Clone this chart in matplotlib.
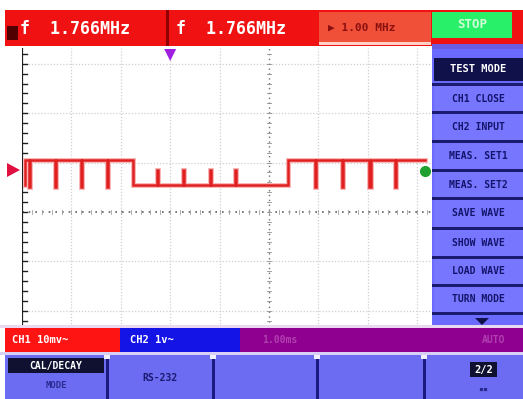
import matplotlib
matplotlib.use("Agg")
import matplotlib.pyplot as plt
from matplotlib.patches import Rectangle, Polygon
import numpy as np

# ---------------- data ----------------
freq_labels = ["f  1.766MHz", "f  1.766MHz"]
trig_label = "\u25B6 1.00 MHz"
run_label = "STOP"
menu_title = "TEST MODE"
menu_items = ["CH1 CLOSE", "CH2 INPUT", "MEAS. SET1", "MEAS. SET2",
              "SAVE WAVE", "SHOW WAVE", "LOAD WAVE", "TURN MODE"]
channel_labels = ["CH1 10mv~", "CH2 1v~"]
status_right = ["1.00ms", "AUTO"]
softkeys = ["CAL/DECAY", "RS-232", "", "", "2/2"]

# waveform in divisions
high_level = 1.05
low_level = 0.55
trace_start, fall_t, rise_t, trace_end = 0.06, 2.25, 5.38, 8.16
spikes_high = [0.14, 0.67, 1.19, 1.72, 5.93, 6.48, 7.03, 7.55]
spikes_low = [2.73, 3.26, 3.80, 4.31]
high_spike_bottom = 0.5
low_spike_top = 0.85
trigger_pos = 3.0
ground_level = 0.85
cursor_point = (8.16, 0.82)

# ---------------- figure ----------------
W, H = 523, 399
fig = plt.figure(figsize=(W / 100, H / 100), dpi=100)
fig.patch.set_facecolor("white")

px = 49.4
L, R, T, B = 22, 432, 48, 327
cy = 212
ax = fig.add_axes([L / W, 1 - B / H, (R - L) / W, (B - T) / H])
ax.set_xlim(0, (R - L) / px)
ax.set_ylim(-(B - cy) / px, (cy - T) / px)
ax.set_facecolor("white")
for s in ax.spines.values():
    s.set_visible(False)
ax.set_xticks([]); ax.set_yticks([])

# grid
for gx in range(1, 9):
    if gx == 5:
        continue
    ax.axvline(gx, color="#cfcfcf", lw=0.9, ls=(0, (1, 1.5)))
for gy in [-2, -1, 1, 2, 3]:
    ax.axhline(gy, color="#cfcfcf", lw=0.9, ls=(0, (1, 1.5)))
ax.axvline(5, color="#707070", lw=1.0, ls=(0, (1, 2.5)))
ax.axhline(0, color="#606060", lw=1.2, ls=(0, (1, 3)))
for t in np.arange(0.2, 8.3, 0.2):
    ax.plot([t, t], [-0.05, 0.05], color="#a0a0a0", lw=0.6)
for t in np.arange(-2.2, 3.3, 0.2):
    ax.plot([4.95, 5.05], [t, t], color="#909090", lw=0.6)
ax.axvline(0.01, color="#202020", lw=1.6)
for t in np.arange(-2.2, 3.3, 0.2):
    ax.plot([0, 0.1], [t, t], color="#202020", lw=1.0)

# build waveform
def level(t):
    return low_level if fall_t <= t < rise_t else high_level

events = [(s, high_spike_bottom) for s in spikes_high] + [(s, low_spike_top) for s in spikes_low]
events += [(fall_t, None), (rise_t, None)]
events.sort(key=lambda e: e[0])
xs = [trace_start, trace_start]
ys = [low_level, high_level]
w = 0.025
for t, v in events:
    if v is None:
        xs += [t, t]; ys += [level(t - 1e-6), level(t + 1e-6)]
    else:
        base = level(t)
        xs += [t, t, t + w, t + w]; ys += [base, v, v, base]
xs.append(trace_end); ys.append(level(trace_end - 1e-6))
ax.plot(xs, ys, color="#f8b8b8", lw=3.6, solid_joinstyle="miter", zorder=3)
ax.plot(xs, ys, color="#e02020", lw=1.8, solid_joinstyle="miter", zorder=4)
ax.plot([cursor_point[0]], [cursor_point[1]], "o", color="#20a030", ms=7, zorder=5)

# ---------------- chrome overlay ----------------
ov = fig.add_axes([0, 0, 1, 1], zorder=10)
ov.set_xlim(0, W); ov.set_ylim(H, 0); ov.axis("off")
ov.patch.set_alpha(0)

def rect(x0, y0, x1, y1, c, **kw):
    ov.add_patch(Rectangle((x0, y0), x1 - x0, y1 - y0, facecolor=c, edgecolor="none", **kw))

mono = "DejaVu Sans Mono"
rect(5, 10, W, 46, "#f01212")
rect(7, 26, 18, 40, "#500000")
rect(166, 10, 169, 46, "#900000")
ov.text(20, 29, freq_labels[0], color="white", fontsize=12, family=mono, fontweight="bold", va="center")
ov.text(176, 29, freq_labels[1], color="white", fontsize=12, family=mono, fontweight="bold", va="center")
rect(319, 12, 431, 44, "#f05038")
rect(319, 42, 431, 45, "#ffd0c8")
ov.text(328, 28, trig_label, color="#8a1010", fontsize=8, family=mono, fontweight="bold", va="center")
rect(432, 12, 512, 38, "#28f068")
ov.text(472, 25, run_label, color="#d0ffd8", fontsize=9, family=mono, fontweight="bold", va="center", ha="center")
rect(432, 44, W, 49, "#6a5ce0")

ov.add_patch(Polygon([[L + trigger_pos * px - 6, 49], [L + trigger_pos * px + 6, 49], [L + trigger_pos * px, 61]],
                     facecolor="#a020e0", edgecolor="none"))
gyp = cy - ground_level * px
ov.add_patch(Polygon([[7, gyp - 7], [7, gyp + 7], [20, gyp]], facecolor="#e01040", edgecolor="none"))

rect(432, 49, W, 327, "#6a6aff")
rect(434, 58, W, 81, "#10104a")
ov.text(478, 69.5, menu_title, color="white", fontsize=7.5, family=mono, fontweight="bold", va="center", ha="center")
seps = [84, 112, 141, 170, 198, 228, 257, 285, 313]
for s in seps:
    rect(432, s - 1, W, s + 1.5, "#1a1a70")
for i, item in enumerate(menu_items):
    y0 = seps[i] + 2
    y1 = seps[i + 1] - 1 if i + 1 < len(seps) else 327
    rect(434, y0, W, y1, "#7676ff")
    ov.text(478, (y0 + y1) / 2, item, color="#14146a", fontsize=7, family=mono, fontweight="bold", va="center", ha="center")
ov.add_patch(Polygon([[475, 318], [489, 318], [482, 325]], facecolor="#10104a", edgecolor="none"))

rect(0, 325, W, 328, "#e8d8f0")
rect(5, 328, 120, 352, "#ff1414")
rect(120, 328, 240, 352, "#1414e6")
rect(240, 328, W, 352, "#900090")
ov.text(12, 340, channel_labels[0], color="white", fontsize=7.5, family=mono, fontweight="bold", va="center")
ov.text(130, 340, channel_labels[1], color="white", fontsize=7.5, family=mono, fontweight="bold", va="center")
ov.text(262, 340, status_right[0], color="#b040b0", fontsize=7, family=mono, fontweight="bold", va="center")
ov.text(505, 340, status_right[1], color="#b040b0", fontsize=7, family=mono, fontweight="bold", va="center", ha="right")

rect(0, 352, W, 355, "#d8d0f8")
rect(5, 355, W, H, "#6c6cf2")
rect(8, 358, 104, 373, "#101030")
ov.text(56, 365.5, softkeys[0], color="white", fontsize=7, family=mono, fontweight="bold", va="center", ha="center")
ov.text(56, 386, "MODE", color="#2a2a90", fontsize=6.5, family=mono, fontweight="bold", va="center", ha="center")
ov.text(160, 378, softkeys[1], color="#1a1a70", fontsize=7, family=mono, fontweight="bold", va="center", ha="center")
for sx in [107, 213, 317, 424]:
    rect(sx - 1.5, 355, sx + 1.5, H, "#1a1a80")
    rect(sx - 3, 355, sx + 3, 359, "#f0f0ff")
rect(470, 362, 497, 377, "#101030")
ov.text(483.5, 369.5, softkeys[4], color="white", fontsize=7.5, family=mono, fontweight="bold", va="center", ha="center")
ov.text(483.5, 389, "\u25AA\u25AA", color="#2a2a90", fontsize=6, family=mono, va="center", ha="center")

fig.savefig("out.png", dpi=100)
